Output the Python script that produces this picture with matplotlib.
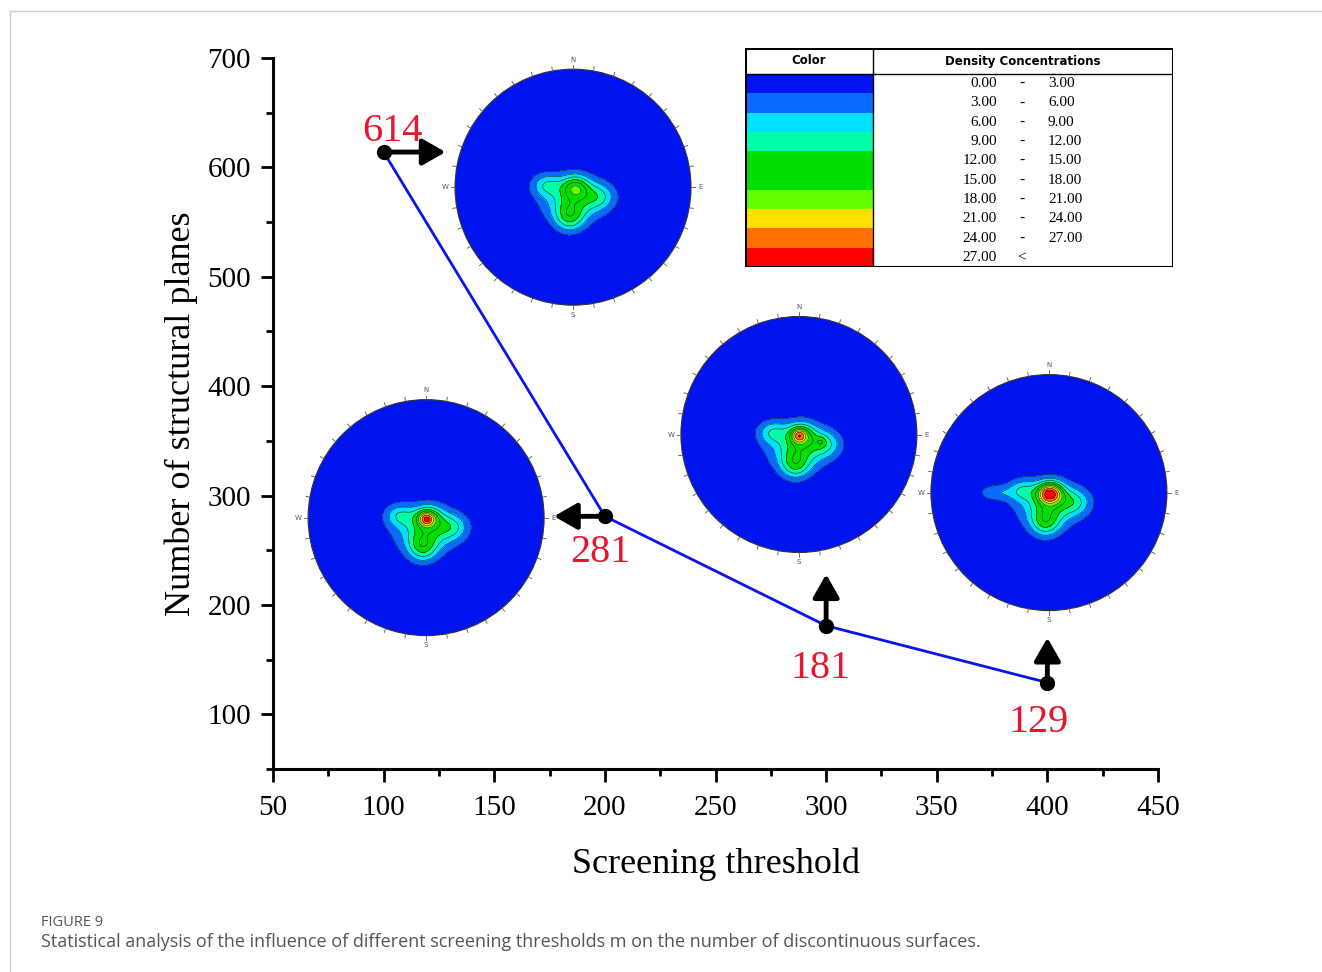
import numpy as np
import matplotlib.pyplot as plt
from matplotlib.patches import Circle, Rectangle
from matplotlib.lines import Line2D
from matplotlib.ticker import MultipleLocator

# Constants
OUTPUT_FILE = 'out.png'
SERIF = 'Liberation Serif'
RED = '#e8152d'
LINE_BLUE = '#0a14f0'
NET_R_PX = 118   # radius of each stereonet in pixels
NET_PAD = 1.15   # extra room round each net for N/S/E/W

# Screening threshold vs number of structural planes
thresholds = [100, 200, 300, 400]
plane_counts = [614, 281, 181, 129]
count_labels = ['614', '281', '181', '129']

# where each arrow points to (towards its stereonet)
arrow_tips = [(128, 614), (177, 281), (300, 228), (400, 170)]
# label offsets from the point, in points
label_offsets = [(6, 15), (-3, -26), (-4, -31), (-6, -29)]

# density legend
density_levels = [0, 3, 6, 9, 12, 15, 18, 21, 24, 27]
density_colors = ['#0014f0', '#0a6aff', '#00e0ff', '#00ffa8', '#00e000',
                  '#00e000', '#66ff00', '#ffe000', '#ff7000', '#ff0000']

# stereonet centres (data coords) and their density blobs: x, y, sx, sy, amp
net_centers = [(185.6, 581.9), (119.2, 279.8), (287.7, 355.8), (400.7, 302.7)]
net_blobs_614 = [(0.02, 0.00, 0.08, 0.07, 10.5), (-0.03, -0.25, 0.09, 0.09, 9.5),
                 (0.22, -0.08, 0.10, 0.08, 6.5), (-0.23, 0.02, 0.09, 0.07, 6.5),
                 (0.00, -0.10, 0.19, 0.14, 9.5)]
net_blobs_281 = [(0.02, 0.00, 0.08, 0.07, 10.0), (-0.03, -0.25, 0.09, 0.09, 9.5),
                 (0.22, -0.08, 0.10, 0.08, 6.5), (-0.23, 0.02, 0.09, 0.07, 6.5),
                 (0.00, -0.10, 0.19, 0.14, 9.5), (0.00, -0.01, 0.045, 0.04, 10.0)]
net_blobs_181 = [(0.02, 0.00, 0.08, 0.07, 10.0), (-0.03, -0.25, 0.09, 0.09, 9.5),
                 (0.22, -0.08, 0.10, 0.08, 6.5), (-0.23, 0.02, 0.09, 0.07, 6.5),
                 (0.00, -0.10, 0.19, 0.14, 9.5), (0.00, -0.01, 0.04, 0.04, 9.0),
                 (0.19, -0.06, 0.03, 0.03, 3.0)]
net_blobs_129 = [(0.02, 0.00, 0.08, 0.07, 10.0), (-0.03, -0.25, 0.09, 0.09, 9.5),
                 (0.22, -0.08, 0.10, 0.08, 6.5), (-0.23, 0.02, 0.09, 0.07, 6.5),
                 (0.00, -0.10, 0.19, 0.14, 9.5), (0.00, -0.01, 0.07, 0.06, 12.0),
                 (-0.46, 0.00, 0.10, 0.05, 5.0)]
net_blobs = [net_blobs_614, net_blobs_281, net_blobs_181, net_blobs_129]


def draw_stereonet(ax, center, blobs):
    """Draw one density stereonet as an inset centred on a data point."""
    cx, cy = center
    p0 = ax.transData.transform((cx, cy))
    p1 = ax.transData.transform((cx + 1, cy + 1))
    half = NET_R_PX * NET_PAD
    hx = half / (p1[0] - p0[0])
    hy = half / (p1[1] - p0[1])
    nax = ax.inset_axes([cx - hx, cy - hy, 2 * hx, 2 * hy], transform=ax.transData)
    nax.set_xlim(-NET_PAD, NET_PAD)
    nax.set_ylim(-NET_PAD, NET_PAD)
    nax.axis('off')

    g = np.linspace(-1, 1, 401)
    X, Y = np.meshgrid(g, g)
    Z = np.zeros_like(X)
    for bx, by, sx, sy, amp in blobs:
        Z += amp * np.exp(-((X - bx) ** 2 / (2 * sx ** 2) + (Y - by) ** 2 / (2 * sy ** 2)))

    clip = Circle((0, 0), 1, transform=nax.transData)
    cf = nax.contourf(X, Y, Z, levels=density_levels + [1000], colors=density_colors)
    cf.set_clip_path(clip)
    cl = nax.contour(X, Y, Z, levels=density_levels[1:], colors='#1a1a1a', linewidths=0.4)
    cl.set_clip_path(clip)
    nax.add_patch(Circle((0, 0), 1, fill=False, ec='#333333', lw=0.8))

    for a in np.deg2rad(np.arange(0, 360, 10)):
        nax.plot([np.cos(a), 1.035 * np.cos(a)], [np.sin(a), 1.035 * np.sin(a)],
                 color='#555555', lw=0.6)
    for lab, (tx, ty) in zip('NSEW', [(0, 1.08), (0, -1.08), (1.08, 0), (-1.08, 0)]):
        nax.text(tx, ty, lab, fontsize=5, color='#555555', ha='center', va='center')


def draw_legend_table(fig):
    """Colour / density concentration table in the upper right."""
    W, H, HEAD, SPLIT = 428, 219, 26, 128
    lax = fig.add_axes([745 / 1322, 1 - 267 / 972, W / 1322, H / 972])
    lax.set_xlim(0, W)
    lax.set_ylim(H, 0)
    lax.axis('off')
    row_h = (H - HEAD) / len(density_colors)
    for i, c in enumerate(density_colors):
        lax.add_patch(Rectangle((0, HEAD + i * row_h), SPLIT, row_h, color=c, lw=0))
        yc = HEAD + (i + 0.5) * row_h
        lo = density_levels[i]
        lax.text(252, yc, f'{lo:.2f}', ha='right', va='center', fontsize=11, family=SERIF)
        if i < len(density_levels) - 1:
            lax.text(277, yc, '-', ha='center', va='center', fontsize=11, family=SERIF)
            lax.text(303, yc, f'{density_levels[i + 1]:.2f}', ha='left', va='center',
                     fontsize=11, family=SERIF)
        else:
            lax.text(277, yc, '<', ha='center', va='center', fontsize=11, family=SERIF)
    lax.add_patch(Rectangle((0, 0), W, H, fill=False, ec='black', lw=2.2))
    lax.plot([0, W], [HEAD, HEAD], color='black', lw=1)
    lax.plot([SPLIT, SPLIT], [0, H], color='black', lw=1)
    lax.text(SPLIT / 2, HEAD / 2, 'Color', ha='center', va='center', fontsize=8.5,
             fontweight='bold')
    lax.text((SPLIT + W) / 2, HEAD / 2, 'Density Concentrations', ha='center',
             va='center', fontsize=8.5, fontweight='bold')


def main():
    fig = plt.figure(figsize=(13.22, 9.72), dpi=100)
    ax = fig.add_axes([273 / 1322, 1 - 769 / 972, 885 / 1322, 711 / 972])
    ax.set_xlim(50, 450)
    ax.set_ylim(50, 700)

    ax.plot(thresholds, plane_counts, color=LINE_BLUE, lw=2, marker='o', ms=10,
            mfc='black', mec='black', zorder=3)
    for x, y, tip, lab, off in zip(thresholds, plane_counts, arrow_tips,
                                   count_labels, label_offsets):
        ax.annotate('', xy=tip, xytext=(x, y),
                    arrowprops=dict(arrowstyle='-|>,head_length=0.7,head_width=0.4',
                                    lw=3.5, color='black', mutation_scale=20,
                                    shrinkA=0, shrinkB=0), zorder=4)
        ax.annotate(lab, (x, y), xytext=off, textcoords='offset points', ha='center',
                    va='center', fontsize=29, color=RED, family=SERIF)

    for center, blobs in zip(net_centers, net_blobs):
        draw_stereonet(ax, center, blobs)

    for s in ['top', 'right']:
        ax.spines[s].set_visible(False)
    for s in ['left', 'bottom']:
        ax.spines[s].set_linewidth(2.2)
    ax.set_xticks(range(50, 451, 50))
    ax.set_yticks(range(100, 701, 100))
    ax.xaxis.set_minor_locator(MultipleLocator(25))
    ax.yaxis.set_minor_locator(MultipleLocator(50))
    ax.tick_params(which='major', direction='out', length=9, width=2, labelsize=21, pad=7)
    ax.tick_params(axis='x', which='major', pad=10)
    ax.tick_params(which='minor', direction='out', length=5, width=2)
    for t in ax.get_xticklabels() + ax.get_yticklabels():
        t.set_family(SERIF)

    ax.set_xlabel('Screening threshold', fontsize=26, family=SERIF)
    ax.set_ylabel('Number of structural planes', fontsize=26, family=SERIF)
    ax.xaxis.set_label_coords(0.5006, -0.11)
    ax.yaxis.set_label_coords(-0.085, 0.5)

    draw_legend_table(fig)

    # page frame and caption
    fig.add_artist(Line2D([10 / 1322, 1], [1 - 11 / 972] * 2, color='#cccccc', lw=1))
    fig.add_artist(Line2D([10 / 1322] * 2, [0, 1 - 11 / 972], color='#cccccc', lw=1))
    fig.text(41 / 1322, 1 - 922 / 972, 'FIGURE 9', fontsize=10.5, color='#555555',
             family='Open Sans', va='center')
    fig.text(41 / 1322, 1 - 942 / 972,
             'Statistical analysis of the influence of different screening thresholds m '
             'on the number of discontinuous surfaces.',
             fontsize=13, color='#555555', family='Open Sans', va='center')

    fig.savefig(OUTPUT_FILE, dpi=100)


if __name__ == "__main__":
    main()
